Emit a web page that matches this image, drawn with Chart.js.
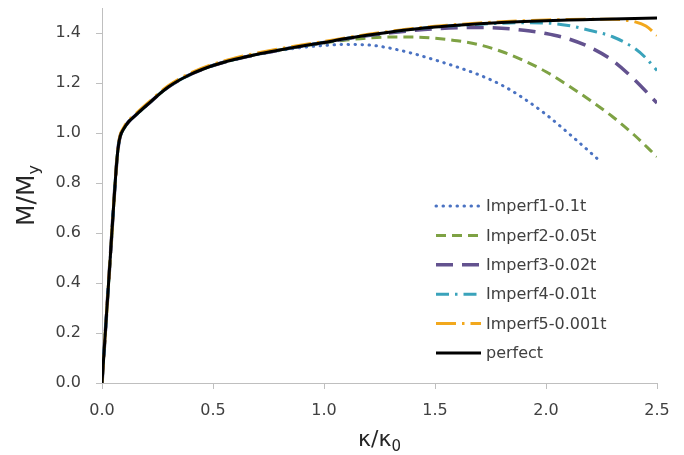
<!DOCTYPE html>
<html>
<head>
<meta charset="utf-8">
<script src="https://cdn.jsdelivr.net/npm/chart.js@4/dist/chart.umd.min.js"></script>
<style>
  html, body { margin: 0; padding: 0; background: #fff; }
  #wrap { width: 684px; height: 455px; }
</style>
</head>
<body>
<div id="wrap"><canvas id="mk_chart"></canvas></div>
<script>
// curvature ratio k/k0 and moment ratio M/My
const kappa_perfect = [0, 0.02, 0.04, 0.06, 0.07, 0.08, 0.1, 0.12, 0.15, 0.2, 0.3, 0.4, 0.5, 0.6, 0.7, 0.8, 0.9, 1.0, 1.1, 1.2, 1.3, 1.4, 1.5, 1.6, 1.7, 1.8, 1.9, 2.0, 2.1, 2.2, 2.3, 2.4, 2.5];
const m_perfect = [0, 0.27, 0.54, 0.81, 0.92, 0.98, 1.02, 1.045, 1.07, 1.11, 1.185, 1.235, 1.27, 1.295, 1.315, 1.332, 1.348, 1.362, 1.378, 1.392, 1.404, 1.415, 1.424, 1.431, 1.437, 1.442, 1.446, 1.449, 1.452, 1.454, 1.456, 1.458, 1.46];

const kappa_imp5 = [0, 0.02, 0.04, 0.06, 0.07, 0.08, 0.1, 0.12, 0.15, 0.2, 0.3, 0.4, 0.5, 0.6, 0.7, 0.8, 0.9, 1.0, 1.1, 1.2, 1.3, 1.4, 1.5, 1.6, 1.7, 1.8, 1.9, 2.0, 2.1, 2.2, 2.3, 2.35, 2.4, 2.45, 2.5];
const m_imp5 = [0, 0.27, 0.54, 0.81, 0.92, 0.985, 1.025, 1.05, 1.075, 1.115, 1.19, 1.24, 1.275, 1.3, 1.32, 1.337, 1.352, 1.366, 1.381, 1.395, 1.407, 1.418, 1.427, 1.434, 1.44, 1.445, 1.449, 1.452, 1.454, 1.455, 1.455, 1.452, 1.445, 1.428, 1.39];

const kappa_imp4 = [0, 0.02, 0.04, 0.06, 0.07, 0.08, 0.1, 0.12, 0.15, 0.2, 0.3, 0.4, 0.5, 0.6, 0.7, 0.8, 0.9, 1.0, 1.1, 1.2, 1.3, 1.4, 1.5, 1.6, 1.7, 1.8, 1.9, 2.0, 2.1, 2.2, 2.3, 2.4, 2.45, 2.5];
const m_imp4 = [0, 0.27, 0.54, 0.81, 0.92, 0.98, 1.02, 1.045, 1.07, 1.11, 1.185, 1.235, 1.27, 1.295, 1.315, 1.332, 1.348, 1.362, 1.378, 1.392, 1.404, 1.415, 1.424, 1.43, 1.435, 1.439, 1.441, 1.44, 1.43, 1.41, 1.385, 1.338, 1.3, 1.25];

const kappa_imp3 = [0, 0.02, 0.04, 0.06, 0.07, 0.08, 0.1, 0.12, 0.15, 0.2, 0.3, 0.4, 0.5, 0.6, 0.7, 0.8, 0.9, 1.0, 1.1, 1.2, 1.3, 1.4, 1.5, 1.6, 1.7, 1.8, 1.9, 2.0, 2.1, 2.2, 2.3, 2.4, 2.5];
const m_imp3 = [0, 0.27, 0.54, 0.81, 0.92, 0.98, 1.02, 1.045, 1.07, 1.11, 1.185, 1.235, 1.27, 1.295, 1.315, 1.332, 1.348, 1.362, 1.377, 1.39, 1.401, 1.41, 1.417, 1.421, 1.422, 1.419, 1.411, 1.398, 1.377, 1.342, 1.29, 1.212, 1.12];

const kappa_imp2 = [0, 0.02, 0.04, 0.06, 0.07, 0.08, 0.1, 0.12, 0.15, 0.2, 0.3, 0.4, 0.5, 0.6, 0.7, 0.8, 0.9, 1.0, 1.1, 1.2, 1.3, 1.4, 1.5, 1.6, 1.7, 1.8, 1.9, 2.0, 2.1, 2.2, 2.3, 2.4, 2.5];
const m_imp2 = [0, 0.27, 0.54, 0.81, 0.92, 0.98, 1.02, 1.045, 1.07, 1.11, 1.185, 1.235, 1.27, 1.295, 1.315, 1.332, 1.347, 1.36, 1.372, 1.38, 1.384, 1.384, 1.379, 1.369, 1.353, 1.326, 1.29, 1.245, 1.19, 1.13, 1.065, 0.99, 0.905];

const kappa_imp1 = [0, 0.02, 0.04, 0.06, 0.07, 0.08, 0.1, 0.12, 0.15, 0.2, 0.3, 0.4, 0.5, 0.6, 0.7, 0.8, 0.9, 1.0, 1.1, 1.2, 1.3, 1.4, 1.5, 1.6, 1.7, 1.8, 1.9, 2.0, 2.1, 2.2, 2.234];
const m_imp1 = [0, 0.27, 0.54, 0.81, 0.92, 0.98, 1.02, 1.045, 1.07, 1.11, 1.185, 1.235, 1.27, 1.295, 1.314, 1.33, 1.342, 1.35, 1.354, 1.352, 1.339, 1.318, 1.292, 1.264, 1.232, 1.192, 1.138, 1.074, 1.0, 0.922, 0.895];

const series_names = ["Imperf1-0.1t", "Imperf2-0.05t", "Imperf3-0.02t", "Imperf4-0.01t", "Imperf5-0.001t", "perfect"];
const x_ticks = [0, 0.5, 1.0, 1.5, 2.0, 2.5];
const y_ticks = [0, 0.2, 0.4, 0.6, 0.8, 1.0, 1.2, 1.4];

const FONT = "'DejaVu Sans', 'Open Sans', sans-serif";

const to_points = (xs, ys) => xs.map((x, i) => ({ x: x, y: ys[i] }));

// line styles for each curve, in legend order
const styles = [
  { color: "#4a72c2", width: 3, dash: [0.5, 6.5], cap: "round" },
  { color: "#7ea244", width: 3, dash: [10, 6], cap: "butt" },
  { color: "#63528f", width: 3.5, dash: [17, 9], cap: "butt" },
  { color: "#3aa3bb", width: 3, dash: [13, 6, 2.5, 6], cap: "butt" },
  { color: "#f2a81d", width: 3, dash: [20, 6, 2.5, 6], cap: "butt" },
  { color: "#000000", width: 3, dash: [], cap: "butt" },
];

const series_data = [
  to_points(kappa_imp1, m_imp1),
  to_points(kappa_imp2, m_imp2),
  to_points(kappa_imp3, m_imp3),
  to_points(kappa_imp4, m_imp4),
  to_points(kappa_imp5, m_imp5),
  to_points(kappa_perfect, m_perfect),
];

const datasets = series_names.map((name, i) => ({
  label: name,
  data: series_data[i],
  borderColor: styles[i].color,
  borderWidth: styles[i].width,
  borderDash: styles[i].dash,
  borderCapStyle: styles[i].cap,
  pointRadius: 0,
  fill: false,
  cubicInterpolationMode: "monotone",
  // perfect on top, then imperf5 ... imperf1
  order: series_names.length - 1 - i,
}));

// legend drawn by hand so the dash patterns show
const legend_plugin = {
  id: "dash_legend",
  afterDraw: (chart) => {
    const ctx = chart.ctx;
    ctx.save();
    series_names.forEach((name, i) => {
      const y = 206 + i * 29.4;
      const st = styles[i];
      ctx.beginPath();
      ctx.strokeStyle = st.color;
      ctx.lineWidth = st.width;
      ctx.setLineDash(st.dash);
      ctx.lineCap = st.cap;
      ctx.moveTo(436, y);
      ctx.lineTo(481, y);
      ctx.stroke();
      ctx.setLineDash([]);
      ctx.fillStyle = "#404040";
      ctx.font = "16px " + FONT;
      ctx.textAlign = "left";
      ctx.textBaseline = "middle";
      ctx.fillText(name, 486, y + 1);
    });
    ctx.restore();
  },
};

// axis titles with subscripts
const titles_plugin = {
  id: "axis_titles",
  afterDraw: (chart) => {
    const ctx = chart.ctx;
    const area = chart.chartArea;
    ctx.save();
    ctx.fillStyle = "#262626";
    ctx.textBaseline = "alphabetic";
    ctx.textAlign = "left";

    // x title
    ctx.font = "22px " + FONT;
    const xa = "κ/κ";
    const wa = ctx.measureText(xa).width;
    ctx.font = "15px " + FONT;
    const wb = ctx.measureText("0").width;
    let x0 = (area.left + area.right) / 2 - (wa + wb) / 2;
    ctx.font = "22px " + FONT;
    ctx.fillText(xa, x0, 446);
    ctx.font = "15px " + FONT;
    ctx.fillText("0", x0 + wa, 451);

    // y title
    ctx.translate(34, (area.top + area.bottom) / 2);
    ctx.rotate(-Math.PI / 2);
    ctx.font = "25px " + FONT;
    const ya = "M/M";
    const wya = ctx.measureText(ya).width;
    ctx.font = "16px " + FONT;
    const wyb = ctx.measureText("y").width;
    const y0 = -(wya + wyb) / 2;
    ctx.font = "25px " + FONT;
    ctx.fillText(ya, y0, 0);
    ctx.font = "16px " + FONT;
    ctx.fillText("y", y0 + wya, 5);
    ctx.restore();
  },
};

const config = {
  type: "line",
  data: { datasets: datasets },
  options: {
    responsive: true,
    maintainAspectRatio: false,
    animation: false,
    layout: { padding: { left: 0, right: 27, top: 8, bottom: 0 } },
    plugins: {
      legend: { display: false },
      tooltip: { enabled: false },
    },
    scales: {
      x: {
        type: "linear",
        min: 0,
        max: 2.5,
        afterBuildTicks: (scale) => {
          scale.ticks = x_ticks.map((v) => ({ value: v }));
        },
        afterFit: (scale) => {
          scale.height = 72;
          scale.paddingLeft = 0;
          scale.paddingRight = 0;
        },
        ticks: {
          color: "#404040",
          font: { family: FONT, size: 16 },
          padding: 12,
          callback: (v) => Number(v).toFixed(1),
        },
        grid: { drawOnChartArea: false, drawTicks: true, tickLength: 6, color: "#bfbfbf" },
        border: { color: "#bfbfbf", width: 1 },
      },
      y: {
        type: "linear",
        min: 0,
        max: 1.5,
        afterBuildTicks: (scale) => {
          scale.ticks = y_ticks.map((v) => ({ value: v }));
        },
        afterFit: (scale) => {
          scale.width = 102;
          scale.paddingTop = 0;
          scale.paddingBottom = 0;
        },
        ticks: {
          color: "#404040",
          font: { family: FONT, size: 16 },
          padding: 15,
          callback: (v) => Number(v).toFixed(1),
        },
        grid: { drawOnChartArea: false, drawTicks: true, tickLength: 6, color: "#bfbfbf" },
        border: { color: "#bfbfbf", width: 1 },
      },
    },
  },
  plugins: [legend_plugin, titles_plugin],
};

const mk_chart = new Chart(document.getElementById("mk_chart"), config);
</script>
</body>
</html>
